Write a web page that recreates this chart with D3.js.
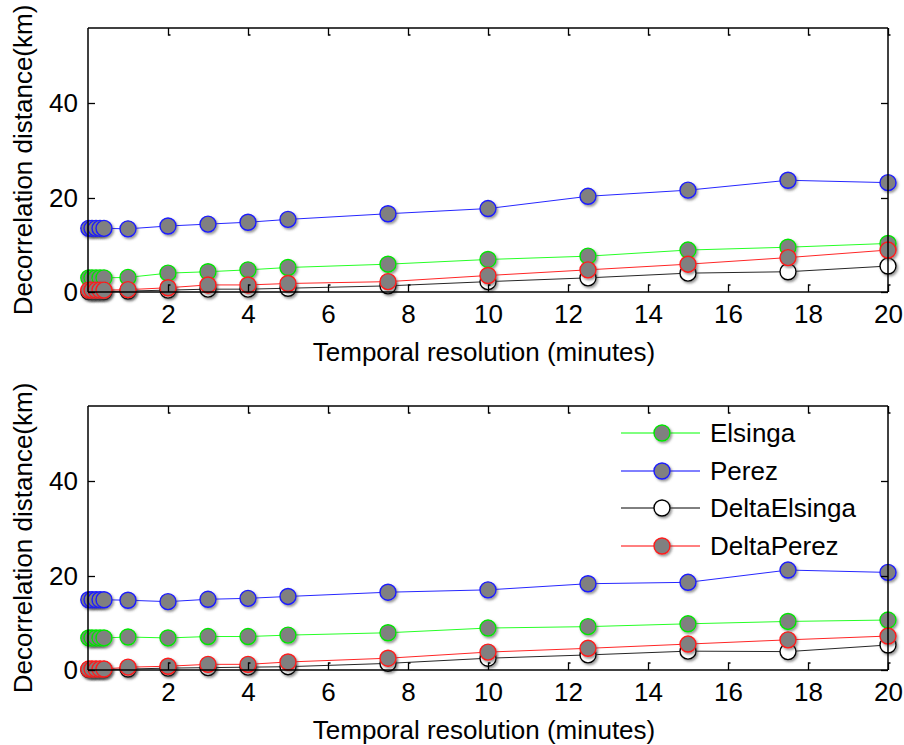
<!DOCTYPE html>
<html>
<head>
<meta charset="utf-8">
<script src="https://cdn.jsdelivr.net/npm/d3@7/dist/d3.min.js"></script>
<style>
  html, body { margin: 0; padding: 0; background: #fff; }
  svg { display: block; }
  text { font-family: Arial, "Liberation Sans", sans-serif; fill: #000; }
</style>
</head>
<body>
<svg id="chart" width="904" height="745"></svg>
<script>
// Temporal resolution (minutes)
const resolution = [0.02, 0.1, 0.2, 0.3, 0.4, 1, 2, 3, 4, 5, 7.5, 10, 12.5, 15, 17.5, 20];

// Upper panel: decorrelation distance (km)
const elsingaTop      = [3.0, 3.0, 3.0, 3.0, 3.0, 3.1, 4.0, 4.3, 4.7, 5.2, 5.9, 6.9, 7.6, 8.9, 9.5, 10.3];
const perezTop        = [13.5, 13.5, 13.5, 13.5, 13.5, 13.4, 14.0, 14.4, 14.8, 15.4, 16.6, 17.7, 20.3, 21.6, 23.7, 23.2];
const deltaElsingaTop = [0.1, 0.1, 0.1, 0.1, 0.1, 0.2, 0.4, 0.6, 0.6, 0.8, 1.3, 2.2, 3.0, 4.0, 4.3, 5.5];
const deltaPerezTop   = [0.4, 0.4, 0.4, 0.4, 0.4, 0.5, 0.9, 1.5, 1.5, 1.8, 2.2, 3.5, 4.7, 5.9, 7.3, 8.9];

// Lower panel: decorrelation distance (km)
const elsingaBottom      = [6.8, 6.8, 6.8, 6.8, 6.8, 7.0, 6.8, 7.1, 7.1, 7.4, 7.9, 8.9, 9.2, 9.8, 10.3, 10.6];
const perezBottom        = [14.9, 14.9, 14.9, 14.9, 14.9, 14.8, 14.5, 15.0, 15.2, 15.6, 16.5, 17.0, 18.3, 18.6, 21.2, 20.7];
const deltaElsingaBottom = [0.1, 0.1, 0.1, 0.1, 0.1, 0.2, 0.4, 0.5, 0.6, 0.7, 1.4, 2.5, 3.2, 4.0, 3.9, 5.3];
const deltaPerezBottom   = [0.2, 0.2, 0.2, 0.2, 0.2, 0.6, 0.8, 1.2, 1.2, 1.7, 2.5, 3.8, 4.6, 5.5, 6.4, 7.2];

const seriesNames = ["Elsinga", "Perez", "DeltaElsinga", "DeltaPerez"];
const xTicks = [2, 4, 6, 8, 10, 12, 14, 16, 18, 20];
const yTicks = [0, 20, 40];
const xDomain = [0, 20];
const yDomain = [0, 56];
const xLabel = "Temporal resolution (minutes)";
const yLabel = "Decorrelation distance(km)";

const FONT = 26;
const FAMILY = "Arial, 'Liberation Sans', sans-serif";

// Styling per series
const styles = {
  Elsinga:      { stroke: "#00e600", line: "#00ff00", fill: "#808080" },
  Perez:        { stroke: "#1a1aff", line: "#0000ff", fill: "#808080" },
  DeltaElsinga: { stroke: "#000000", line: "#000000", fill: "#ffffff" },
  DeltaPerez:   { stroke: "#ff1a1a", line: "#ff0000", fill: "#808080" }
};

const svg = d3.select("#chart");
svg.append("rect").attr("width", 904).attr("height", 745).attr("fill", "#fff");

const defs = svg.append("defs");
const shadow = defs.append("filter").attr("id", "mshadow")
  .attr("x", "-50%").attr("y", "-50%").attr("width", "200%").attr("height", "200%");
shadow.append("feDropShadow")
  .attr("dx", 1.5).attr("dy", 1.8).attr("stdDeviation", 0.9)
  .attr("flood-color", "#444").attr("flood-opacity", 0.55);

const R = 8;

function drawPanel(top, bottom, seriesValues, withLegend) {
  const left = 88, right = 888;
  const x = d3.scaleLinear().domain(xDomain).range([left, right]);
  const y = d3.scaleLinear().domain(yDomain).range([bottom, top]);
  const g = svg.append("g");

  // Series: line first, then markers, in plotting order
  seriesNames.forEach((name, si) => {
    const vals = seriesValues[si];
    const st = styles[name];
    const pts = resolution.map((r, i) => [r, vals[i]]);
    const line = d3.line().x(d => x(d[0])).y(d => y(d[1]));
    g.append("path").datum(pts)
      .attr("d", line).attr("fill", "none")
      .attr("stroke", st.line).attr("stroke-width", 1).attr("opacity", 0.85);
    g.selectAll(null).data(pts).enter().append("circle")
      .attr("cx", d => x(d[0])).attr("cy", d => y(d[1])).attr("r", R)
      .attr("fill", st.fill).attr("stroke", st.stroke).attr("stroke-width", 1.4)
      .attr("filter", "url(#mshadow)");
  });

  // Axes box
  const box = g.append("g").attr("stroke", "#000").attr("fill", "none");
  box.append("line").attr("x1", left).attr("x2", right).attr("y1", top).attr("y2", top).attr("stroke-width", 1.5);
  box.append("line").attr("x1", left).attr("x2", right).attr("y1", bottom).attr("y2", bottom).attr("stroke-width", 1.5);
  box.append("line").attr("x1", left).attr("x2", left).attr("y1", top).attr("y2", bottom).attr("stroke-width", 1.5);
  box.append("line").attr("x1", right).attr("x2", right).attr("y1", top).attr("y2", bottom).attr("stroke-width", 1.5);

  // Inward tick marks on all four sides
  const tl = 7;
  xTicks.forEach(t => {
    const px = Math.round(x(t)) + 0.5;
    box.append("path").attr("d", `M${px},${top}V${top + tl}h2`).attr("stroke-width", 1.3);
    box.append("path").attr("d", `M${px},${bottom}V${bottom - tl}h2`).attr("stroke-width", 1.3);
  });
  yTicks.forEach(t => {
    const py = Math.round(y(t)) + 0.5;
    box.append("path").attr("d", `M${left},${py}H${left + tl}`).attr("stroke-width", 1.3);
    box.append("path").attr("d", `M${right},${py}H${right - tl}`).attr("stroke-width", 1.3);
  });

  // Tick labels
  const xAxis = d3.axisBottom(x).tickValues(xTicks).tickSize(0).tickPadding(13);
  const xa = g.append("g").attr("transform", `translate(0,${bottom})`).call(xAxis);
  xa.select(".domain").remove();
  xa.selectAll("text").attr("font-size", FONT).attr("font-family", FAMILY).attr("fill", "#000");

  const yAxis = d3.axisLeft(y).tickValues(yTicks).tickSize(0).tickPadding(10);
  const ya = g.append("g").attr("transform", `translate(${left},0)`).call(yAxis);
  ya.select(".domain").remove();
  ya.selectAll("text").attr("font-size", FONT).attr("font-family", FAMILY).attr("fill", "#000");

  // Axis titles
  g.append("text").attr("x", (left + right) / 2 - 4).attr("y", bottom + 69)
    .attr("text-anchor", "middle").attr("font-size", FONT).text(xLabel);
  g.append("text")
    .attr("transform", `translate(32,${(top + bottom) / 2}) rotate(-90)`)
    .attr("text-anchor", "middle").attr("font-size", FONT).text(yLabel);

  if (withLegend) {
    const lg = g.append("g");
    const rowY = [433, 471, 508, 546];
    seriesNames.forEach((name, i) => {
      const st = styles[name];
      lg.append("line").attr("x1", 621).attr("x2", 700).attr("y1", rowY[i]).attr("y2", rowY[i])
        .attr("stroke", st.line).attr("stroke-width", 1);
      lg.append("circle").attr("cx", 662).attr("cy", rowY[i]).attr("r", R)
        .attr("fill", st.fill).attr("stroke", st.stroke).attr("stroke-width", 1.4)
        .attr("filter", "url(#mshadow)");
      lg.append("text").attr("x", 710).attr("y", rowY[i]).attr("dy", "0.35em")
        .attr("font-size", FONT).text(name);
    });
  }
}

drawPanel(28, 292, [elsingaTop, perezTop, deltaElsingaTop, deltaPerezTop], false);
drawPanel(406, 670, [elsingaBottom, perezBottom, deltaElsingaBottom, deltaPerezBottom], true);
</script>
</body>
</html>
